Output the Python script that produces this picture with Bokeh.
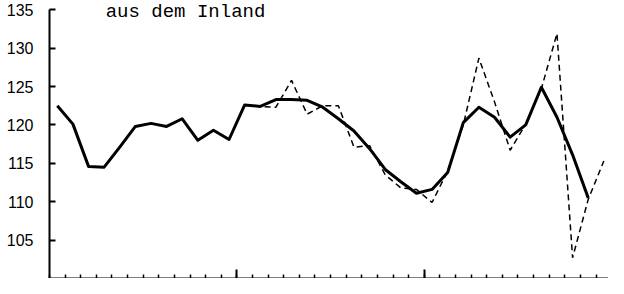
from bokeh.plotting import figure
from bokeh.models import FixedTicker, Label, Range1d
from bokeh.embed import file_html
from bokeh.resources import INLINE

# Monthly index values (3 years, 36 months)
title_text = "aus dem Inland"
y_ticks = [105, 110, 115, 120, 125, 130, 135]
year_ticks = [12, 24]

solid_months = list(range(0, 35))
solid_values = [122.5, 120.1, 114.6, 114.5, 117.1, 119.8, 120.2, 119.8, 120.8, 118.0,
                119.3, 118.1, 122.6, 122.4, 123.3, 123.3, 123.2, 122.3, 120.8, 119.2,
                116.9, 114.2, 112.6, 111.1, 111.6, 113.8, 120.3, 122.3, 121.0, 118.4,
                120.0, 124.9, 121.0, 116.1, 110.5]

dashed_months = list(range(12, 36))
dashed_values = [122.6, 122.4, 122.3, 125.8, 121.4, 122.5, 122.5, 117.1, 117.3, 113.5,
                 111.8, 111.6, 109.9, 114.0, 120.0, 128.7, 123.0, 116.7, 120.1, 124.7,
                 131.9, 102.7, 110.3, 115.3]

sx = [m + 0.5 for m in solid_months]
dx = [m + 0.5 for m in dashed_months]

p = figure(width=608, height=278,
           x_range=Range1d(0, 35.8), y_range=Range1d(100, 136.2),
           output_backend="svg", toolbar_location=None,
           min_border_left=49, min_border_right=0,
           min_border_top=0, min_border_bottom=0)

p.outline_line_color = None
p.xgrid.visible = False
p.ygrid.visible = False
p.background_fill_color = "white"
p.border_fill_color = "white"

p.line(dx, dashed_values, line_color="black", line_width=1.5, line_dash="6 4")
p.line(sx, solid_values, line_color="black", line_width=3, line_join="round")

# y axis
ya = p.yaxis[0]
ya.ticker = FixedTicker(ticks=y_ticks, minor_ticks=[])
ya.bounds = (100, 135)
ya.axis_line_width = 2
ya.axis_line_color = "black"
ya.major_tick_in = 6
ya.major_tick_out = 0
ya.major_tick_line_width = 2
ya.minor_tick_line_color = None
ya.major_label_text_font = "Liberation Sans"
ya.major_label_text_font_size = "16px"
ya.major_label_text_color = "black"
ya.major_label_standoff = 16

# x axis
xa = p.xaxis[0]
xa.ticker = FixedTicker(ticks=year_ticks, minor_ticks=list(range(0, 36)))
xa.axis_line_width = 2
xa.axis_line_color = "black"
xa.major_tick_in = 9
xa.major_tick_out = 0
xa.major_tick_line_width = 2
xa.minor_tick_in = 4
xa.minor_tick_out = 0
xa.minor_tick_line_width = 1.5
xa.minor_tick_line_color = "black"
xa.major_label_overrides = {t: "" for t in year_ticks}
xa.major_label_text_font_size = "0px"
xa.major_label_standoff = 0

p.add_layout(Label(x=3.6, y=136.2, text=title_text, text_font="Liberation Mono",
                   text_font_size="19px", text_baseline="top", text_color="black"))

open("out.html", "w").write(file_html(p, INLINE))
